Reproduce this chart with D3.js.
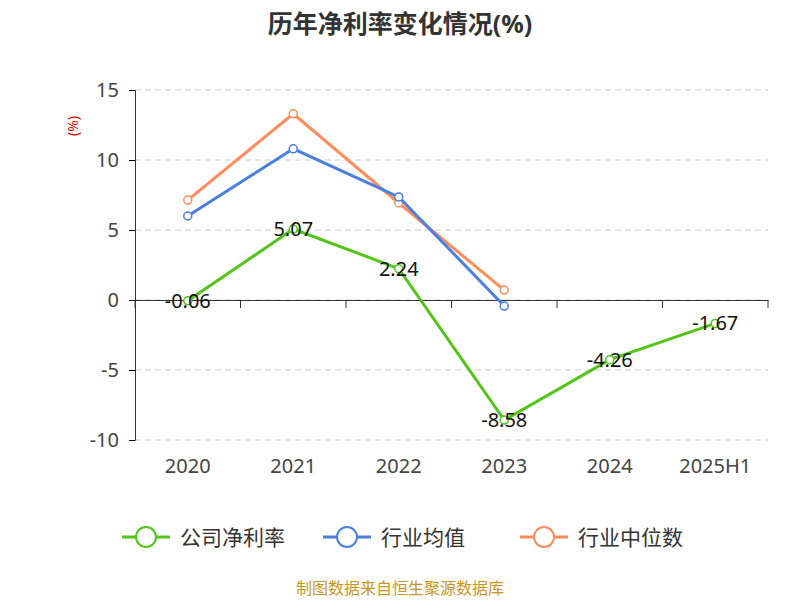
<!DOCTYPE html>
<html><head><meta charset="utf-8">
<script src="https://cdn.jsdelivr.net/npm/d3@7"></script>
<style>body{margin:0;background:#fff;font-family:"Noto Sans","Noto Sans CJK SC",sans-serif;}</style>
</head><body>
<svg width="800" height="600"></svg>
<script>
let years = ["2020", "2021", "2022", "2023", "2024", "2025H1"];
let company = [-0.06, 5.07, 2.24, -8.58, -4.26, -1.67];
let industryAvg = [6.0, 10.8, 7.36, -0.43, null, null];
let industryMedian = [7.14, 13.3, 6.93, 0.71, null, null];
let yTicks = [15, 10, 5, 0, -5, -10];
let seriesNames = ["公司净利率", "行业均值", "行业中位数"];
let colors = ["#52c41a", "#4a7fe0", "#ff8c5a"];

let svg = d3.select("svg"),
    margin = {top: 90, left: 135, right: 32, bottom: 160},
    width = 800 - margin.left - margin.right,
    height = 600 - margin.top - margin.bottom;

let x = d3.scaleBand().domain(years).range([margin.left, margin.left + width]);
let y = d3.scaleLinear().domain([-10, 15]).range([margin.top + height, margin.top]);
let cx = d => x(d) + x.bandwidth() / 2;

// title
svg.append("text").attr("x", 400).attr("y", 33).attr("text-anchor", "middle")
    .attr("font-size", "25px").attr("font-weight", "bold").attr("fill", "#333")
    .text("历年净利率变化情况(%)");
svg.append("text").attr("transform", "translate(78,126) rotate(-90)")
    .attr("text-anchor", "middle").attr("font-size", "14px").attr("fill", "#e00000").text("(%)");

// grid
svg.append("g").selectAll("line").data(yTicks).join("line")
    .attr("x1", margin.left).attr("x2", margin.left + width)
    .attr("y1", d => y(d)).attr("y2", d => y(d))
    .attr("stroke", "#ccc").attr("stroke-dasharray", "6,4");

// y axis
let ya = svg.append("g").attr("transform", "translate(" + margin.left + ",0)")
    .call(d3.axisLeft(y).tickValues(yTicks).tickSize(6).tickPadding(10).tickFormat(d => String(d)));
ya.select(".domain").attr("stroke", "#333");
ya.selectAll("text").attr("font-size", "20px").attr("fill", "#444").attr("font-family", "Noto Sans");

// x axis at zero
let xa = svg.append("g").attr("transform", "translate(0," + y(0) + ")")
    .call(d3.axisBottom(x).tickSize(0).tickFormat(""));
xa.select(".domain").attr("stroke", "#333");
svg.append("g").selectAll("line").data(years.map((d, i) => i).concat([years.length])).join("line")
    .attr("x1", i => margin.left + i * x.bandwidth()).attr("x2", i => margin.left + i * x.bandwidth())
    .attr("y1", y(0)).attr("y2", y(0) + 8).attr("stroke", "#333");
svg.append("g").selectAll("text").data(years).join("text")
    .attr("x", d => cx(d)).attr("y", 473).attr("text-anchor", "middle")
    .attr("font-size", "20px").attr("fill", "#444").text(d => d);

let line = d3.line().defined(d => d[1] != null).x(d => cx(d[0])).y(d => y(d[1]));
[industryMedian, industryAvg, company].forEach((s, k) => {
    let c = colors[2 - k];
    let pts = years.map((yr, i) => [yr, s[i]]);
    svg.append("path").datum(pts).attr("fill", "none").attr("stroke", c)
        .attr("stroke-width", 3).attr("d", line);
    svg.append("g").selectAll("circle").data(pts.filter(p => p[1] != null)).join("circle")
        .attr("cx", p => cx(p[0])).attr("cy", p => y(p[1])).attr("r", 4)
        .attr("fill", "#fff").attr("stroke", c).attr("stroke-width", 1.5);
});

// company labels
svg.append("g").selectAll("text").data(years).join("text")
    .attr("x", d => cx(d)).attr("y", (d, i) => y(company[i]) + 7)
    .attr("text-anchor", "middle").attr("font-size", "20px").attr("fill", "#111")
    .text((d, i) => company[i].toFixed(2));

// legend
let lg = svg.append("g").selectAll("g").data(seriesNames).join("g")
    .attr("transform", (d, i) => "translate(" + [122, 323, 520][i] + ",537)");
lg.append("line").attr("x1", 0).attr("x2", 48).attr("stroke", (d, i) => colors[i]).attr("stroke-width", 3);
lg.append("circle").attr("cx", 24).attr("r", 10).attr("fill", "#fff")
    .attr("stroke", (d, i) => colors[i]).attr("stroke-width", 2);
lg.append("text").attr("x", 58).attr("y", 8).attr("font-size", "21px").attr("fill", "#333").text(d => d);

svg.append("text").attr("x", 400).attr("y", 594).attr("text-anchor", "middle")
    .attr("font-size", "16px").attr("fill", "#c8961e").text("制图数据来自恒生聚源数据库");
</script>
</body></html>
